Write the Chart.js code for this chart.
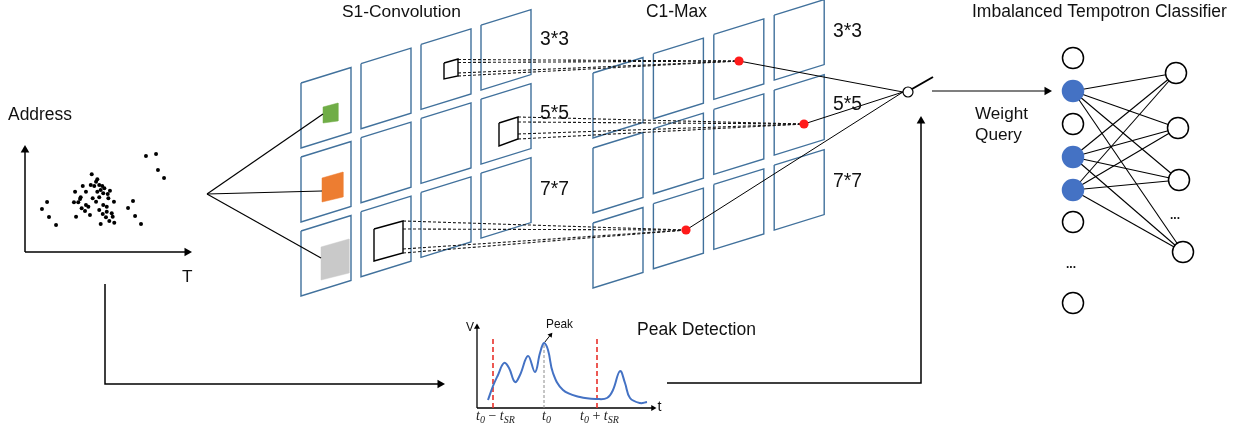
<!DOCTYPE html>
<html><head><meta charset="utf-8">
<script src="https://cdn.jsdelivr.net/npm/chart.js@4.4.1/dist/chart.umd.min.js"></script>
<style>html,body{margin:0;padding:0;background:#fff}#wrap{width:1245px;height:432px;position:relative}</style>
</head><body><div id="wrap"><canvas id="c"></canvas></div>
<script>
// ================= DATA =================
// Address-event cloud: time T and address values (axis units 0..10)
const eventT = [7.56,8.19,8.31,8.69,1.38,1.06,1.50,1.94,6.75,6.44,6.88,7.25,
  4.17,4.52,4.44,3.61,4.11,4.33,4.64,4.83,4.73,4.96,3.13,3.81,4.52,4.89,5.17,3.48,4.23,4.64,5.21,
  4.44,3.06,3.33,5.56,3.81,4.89,3.54,3.96,5.11,3.75,4.64,5.11,5.42,3.19,4.06,4.86,5.06,5.48,5.27,5.58,4.73,3.44,5.31];
const eventAddr = [8.97,9.16,7.66,6.92,4.67,4.02,3.27,2.52,4.77,4.11,3.36,2.62,
  7.26,6.79,6.57,6.17,6.26,6.17,6.26,6.17,5.79,5.95,5.64,5.64,5.64,5.49,5.42,5.11,5.02,5.11,5.02,
  4.70,4.64,4.64,4.70,4.39,4.39,4.08,4.23,4.23,3.83,3.93,3.77,3.62,3.30,3.46,3.55,3.24,3.30,2.90,2.74,2.62,4.95,5.73];
// Membrane potential trace V(t) for peak detection
const curveT = [1.1,1.6,2.1,2.7,3.2,3.8,4.3,5.1,5.8,6.3,6.7,7.1,7.6,8.6,10.3,12.0,13.0,13.6,14.3,14.8,15.3,16.3,17.0];
const curveV = [0.8,2.2,3.3,4.5,4.0,2.6,3.3,5.2,3.6,5.5,6.5,5.8,3.5,1.8,1.1,0.9,1.0,1.8,3.7,2.5,1.0,0.5,0.6];
const markerT = [1.6, 6.7, 12.0];           // t0 - tSR, t0, t0 + tSR
const markerTop = [7.0, 6.5, 7.0];
const kernelLabels = ['3*3','5*5','7*7'];
const stageTitles = ['S1-Convolution','C1-Max','Imbalanced Tempotron Classifier'];
const inputNodeActive = [false,true,false,true,true,false,false];
const outputNodeCount = 4;

// ================= LAYOUT (pixel geometry of the schematic) =================
const W = 1245, H = 432;
const ev = {x0:25, y0:252, kx:16, ky:10.7};      // event plot origin & units
const pv = {x0:477, y0:408, kx:10, ky:10};       // potential plot origin & units
const S1 = {x0:301, y0:83, dx:60, dy:-19.3, rowStep:74, w:50, skew:-15.5, h:65};
const C1 = {x0:593, y0:73, dx:60.4, dy:-19.3, rowStep:75, w:50, skew:-15.5, h:65};
const panelBlue = '#41719c';
const kernels = [
  {sq:[[444,63],[458,59],[458,76],[444,79]], starts:[[458,59.5],[458,62.5],[458,73],[458,76]], dot:[739,61]},
  {sq:[[499,123],[518,117],[518,139],[499,146]], starts:[[518,117],[518,122],[518,134],[518,139]], dot:[804,124]},
  {sq:[[374,229],[403,221],[403,253],[374,261]], starts:[[403,221],[403,229],[403,249],[403,253]], dot:[686,230]}
];
const colorSquares = [
  {pts:[[323,107],[338,103],[338,121],[323,123]], color:'#70ad47', lineEnd:[323,114]},
  {pts:[[322,178],[343,172],[343,197],[322,202]], color:'#ed7d31', lineEnd:[322,191]},
  {pts:[[321,247],[349,239],[349,273],[321,280]], color:'#c9c9c9', lineEnd:[321,258]}
];
const fanOrigin = [207,194];
const junction = [908,92];
const inputNodeX = 1073, inputNodeY = [58,91,124,157,190,222,303];
const outputNodes = [[1176,73],[1178,128],[1179,180],[1183,252]];

// ================= DATASETS =================
const DS = [];
const P = a => a.map(p => ({x:p[0], y:p[1]}));
function line(points, o) {
  DS.push(Object.assign({type:'line', data:P(points), borderColor:'#000', borderWidth:1,
    pointRadius:0, fill:false, tension:0, order:10, clip:false, xAxisID:'x', yAxisID:'y'}, o||{}));
}
function marks(points, o) {
  DS.push(Object.assign({type:'scatter', data:P(points), showLine:false, pointRadius:3,
    pointBackgroundColor:'#000', pointBorderColor:'#000', pointBorderWidth:0, order:0, clip:false,
    xAxisID:'x', yAxisID:'y'}, o||{}));
}
function arrowHead(pt, rot, r) {
  marks([pt], {pointStyle:'triangle', pointRotation:rot, pointRadius:r||5, order:1});
}
function closed(a){ return a.concat([a[0]]); }

// S1 and C1 panels
function panels(g) {
  for (let r=0;r<3;r++) for (let c=0;c<4;c++) {
    const x = g.x0 + c*g.dx, y = g.y0 + r*g.rowStep + c*g.dy;
    line([[x,y],[x+g.w,y+g.skew],[x+g.w,y+g.skew+g.h],[x,y+g.h],[x,y]],
      {borderColor:panelBlue, borderWidth:1.4, order:12});
  }
}
panels(S1); panels(C1);

// coloured feature squares + fan lines
colorSquares.forEach(s => {
  line(closed(s.pts), {borderColor:s.color, backgroundColor:s.color, borderWidth:0.5, fill:'shape', order:11});
  line([fanOrigin, s.lineEnd], {borderWidth:1.2});
});

// kernels, dashed projections, red max dots, lines to junction
kernels.forEach(k => {
  line(closed(k.sq), {borderWidth:1.4});
  k.starts.forEach(s => line([s, k.dot], {borderDash:[3,2], borderColor:'#1a1a1a', borderWidth:1.1}));
  line([k.dot, [junction[0]-5, junction[1]]], {borderWidth:1});
});
marks(kernels.map(k=>k.dot), {pointRadius:4.6, pointBackgroundColor:'#ff1a1a', pointBorderColor:'#ff1a1a'});

// junction / switch
marks([junction], {pointRadius:5, pointBackgroundColor:'#fff', pointBorderWidth:1.2});
line([[912,89],[933,77]], {borderWidth:2});
line([[932,91],[1046,91]], {borderWidth:1.2});
arrowHead([1047,91], 90, 5);

// event plot axes
line([[ev.x0,ev.y0],[ev.x0,150]], {borderWidth:1.5});
arrowHead([ev.x0,150], 0, 5);
line([[ev.x0,ev.y0],[187,ev.y0]], {borderWidth:1.5});
arrowHead([187,ev.y0], 90, 5);
// event dots (on event scales)
DS.push({type:'scatter', data:eventT.map((t,i)=>({x:t, y:eventAddr[i]})), xAxisID:'xe', yAxisID:'ye',
  pointRadius:2, pointBackgroundColor:'#000', pointBorderWidth:0, showLine:false, order:0, clip:false});

// left feed line to peak detection
line([[105,284],[105,384],[439,384]], {borderWidth:1.5});
arrowHead([440,384], 90, 5);
// right feed line up to switch
line([[667,383],[921,383],[921,122]], {borderWidth:1.5});
arrowHead([921,121], 0, 5);

// potential plot axes
line([[pv.x0,pv.y0],[pv.x0,328]], {borderWidth:1.3});
arrowHead([pv.x0,327], 0, 3.5);
line([[pv.x0,pv.y0],[653,pv.y0]], {borderWidth:1.3});
arrowHead([653,pv.y0], 90, 3.5);
// markers and curve (on potential scales)
markerT.forEach((t,i) => {
  DS.push({type:'line', data:[{x:t,y:0},{x:t,y:markerTop[i]}], xAxisID:'xv', yAxisID:'yv',
    borderColor: i===1 ? '#8c8c8c' : '#e8302a', borderWidth: i===1 ? 1 : 1.6,
    borderDash: i===1 ? [3,2] : [5,3], pointRadius:0, fill:false, order:9, clip:false});
});
DS.push({type:'line', data:curveT.map((t,i)=>({x:t,y:curveV[i]})), xAxisID:'xv', yAxisID:'yv',
  borderColor:'#4472c4', borderWidth:2, tension:0.4, pointRadius:0, fill:false, order:8, clip:false});
// "Peak" pointer
line([[544.5,342.5],[550,335.5]], {borderWidth:1});
arrowHead([550.5,335], 38, 3);

// classifier edges and nodes
inputNodeY.forEach((y,i) => {
  if (!inputNodeActive[i]) return;
  outputNodes.forEach(o => line([[inputNodeX,y], o], {borderWidth:1.1}));
});
marks(inputNodeY.map(y=>[inputNodeX,y]), {pointRadius:10.5,
  pointBackgroundColor: inputNodeActive.map(a=>a?'#4472c4':'#fff'),
  pointBorderColor: inputNodeActive.map(a=>a?'#4472c4':'#000'), pointBorderWidth:1.5});
marks(outputNodes.slice(0,outputNodeCount), {pointRadius:10.5, pointBackgroundColor:'#fff',
  pointBorderColor:'#000', pointBorderWidth:1.5});

// ================= TEXT =================
const SANS = '"Liberation Sans", Arial, sans-serif';
const SERIF = '"Liberation Serif", "DejaVu Serif", serif';
function fitText(ctx, s, x, y, width, fam, style) {
  ctx.font = `${style||''} 20px ${fam||SANS}`;
  const size = 20 * width / ctx.measureText(s).width;
  ctx.font = `${style||''} ${size.toFixed(2)}px ${fam||SANS}`;
  ctx.fillText(s, x, y);
}
function mathLabel(ctx, parts, x, y) {
  let cx = x;
  parts.forEach(p => {
    if (typeof p === 'string') {
      ctx.font = `14px ${SERIF}`; ctx.fillText(p, cx, y); cx += ctx.measureText(p).width;
    } else {
      ctx.font = `italic 14px ${SERIF}`; ctx.fillText(p.t, cx, y); cx += ctx.measureText(p.t).width;
      ctx.font = `italic 10px ${SERIF}`; ctx.fillText(p.sub, cx, y+3); cx += ctx.measureText(p.sub).width;
    }
  });
  return cx - x;
}
const textPlugin = {
  id:'texts',
  afterDraw(chart) {
    const ctx = chart.ctx, sx = chart.scales.x, sy = chart.scales.y;
    const X = v => sx.getPixelForValue(v), Y = v => sy.getPixelForValue(v);
    ctx.save();
    ctx.fillStyle = '#111'; ctx.textBaseline = 'alphabetic'; ctx.textAlign = 'left';
    fitText(ctx, 'Address', X(8), Y(120), 64);
    fitText(ctx, 'T', X(182), Y(282), 10.5);
    fitText(ctx, stageTitles[0], X(342), Y(17), 119);
    fitText(ctx, stageTitles[1], X(646), Y(17), 61);
    fitText(ctx, stageTitles[2], X(972), Y(17), 255);
    const s1Base = [45,119,195], c1Base = [37,110,187];
    kernelLabels.forEach((l,i) => { fitText(ctx, l, X(540), Y(s1Base[i]), 29); fitText(ctx, l, X(833), Y(c1Base[i]), 29); });
    fitText(ctx, 'Weight', X(975), Y(119), 53);
    fitText(ctx, 'Query', X(975), Y(140), 47);
    fitText(ctx, 'Peak Detection', X(637), Y(335), 119);
    fitText(ctx, 'Peak', X(546), Y(328), 27);
    fitText(ctx, 'V', X(466), Y(331), 8);
    fitText(ctx, 't', X(657.5), Y(411), 4);
    fitText(ctx, '...', X(1066), Y(268), 10, SANS, 'bold');
    fitText(ctx, '...', X(1170), Y(219), 10, SANS, 'bold');
    ctx.fillStyle = '#222';
    mathLabel(ctx, [{t:'t',sub:'0'},' \u2212 ',{t:'t',sub:'SR'}], X(476), Y(420));
    mathLabel(ctx, [{t:'t',sub:'0'}], X(542), Y(420));
    mathLabel(ctx, [{t:'t',sub:'0'},' + ',{t:'t',sub:'SR'}], X(580), Y(420));
    ctx.restore();
  }
};

// ================= SCALES =================
const hid = {display:false, type:'linear'};
const scales = {
  x: Object.assign({}, hid, {axis:'x', min:0, max:W}),
  y: Object.assign({}, hid, {axis:'y', min:0, max:H, reverse:true}),
  xe: Object.assign({}, hid, {axis:'x', min:-ev.x0/ev.kx, max:(W-ev.x0)/ev.kx}),
  ye: Object.assign({}, hid, {axis:'y', min:(ev.y0-H)/ev.ky, max:ev.y0/ev.ky}),
  xv: Object.assign({}, hid, {axis:'x', min:-pv.x0/pv.kx, max:(W-pv.x0)/pv.kx}),
  yv: Object.assign({}, hid, {axis:'y', min:(pv.y0-H)/pv.ky, max:pv.y0/pv.ky})
};

new Chart(document.getElementById('c'), {
  type:'scatter',
  data:{datasets:DS},
  options:{
    responsive:true, maintainAspectRatio:false, animation:false,
    layout:{padding:0, autoPadding:false},
    plugins:{legend:{display:false}, tooltip:{enabled:false}},
    events:[],
    scales
  },
  plugins:[textPlugin]
});
</script></body></html>
